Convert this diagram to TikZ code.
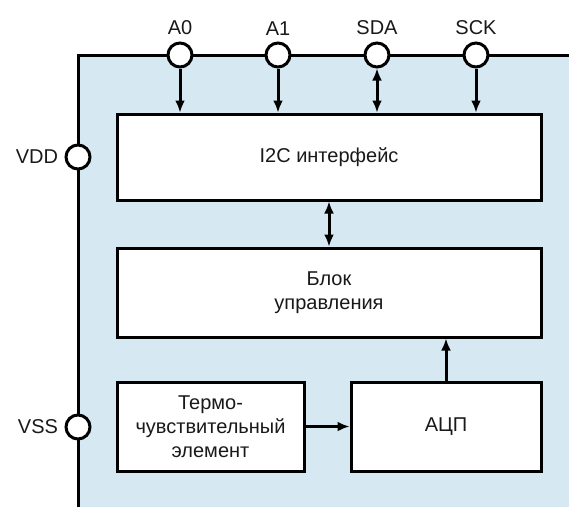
\documentclass[tikz,border=0pt]{standalone}
\usepackage{fontspec}
\setmainfont{Liberation Sans}
\usetikzlibrary{arrows.meta}
\definecolor{chipblue}{RGB}{214,233,243}
\definecolor{txt}{RGB}{25,25,25}
\begin{document}
\begin{tikzpicture}
  [x=1pt,y=-1pt,line width=3pt,font=\fontsize{20}{24}\selectfont,text=txt,
   blk/.style={draw,fill=white,inner sep=0pt,align=center},
   pin/.style={circle,draw,fill=white,minimum size=24pt,inner sep=0pt},
   sig/.style={-{Latex[length=12pt,width=10pt]}},
   bisig/.style={{Latex[length=12pt,width=10pt]}-{Latex[length=12pt,width=10pt]}}]
  \useasboundingbox (0,0) rectangle (569,507);
  % chip body
  \fill[chipblue] (78,55) rectangle (569,507);
  \draw (569,55) -- (78,55) -- (78,507);
  % blocks
  \node[blk,minimum width=424pt,minimum height=86pt] (i2c) at (329,157) {I2C интерфейс};
  \node[blk,minimum width=424pt,minimum height=89pt] (ctrl) at (329,292.5) {Блок\\управления};
  \node[blk,minimum width=187pt,minimum height=89pt] (sens) at (210.5,426.5) {Термо-\\чувствительный\\элемент};
  \node[blk,minimum width=190pt,minimum height=89pt] (adc) at (446,426.5) {АЦП};
  % pins
  \node[pin,label={[inner sep=5pt]above:A0}] (a0) at (180,55) {};
  \node[pin,label={[inner sep=5pt]above:A1}] (a1) at (278,55) {};
  \node[pin,label={[inner sep=5pt]above:SDA}] (sda) at (377,55) {};
  \node[pin,label={[inner sep=5pt]above:SCK}] (sck) at (476,55) {};
  \node[pin,label={[inner sep=5pt]left:VDD}] (vdd) at (78,157) {};
  \node[pin,label={[inner sep=5pt]left:VSS}] (vss) at (78,427) {};
  % signals
  \foreach \p in {a0,a1,sck}
    \draw[sig] (\p) -- (\p |- i2c.north);
  \draw[bisig] (sda) -- (sda |- i2c.north);
  \draw[bisig] (i2c) -- (ctrl);
  \draw[sig] (adc.north) -- (adc.north |- ctrl.south);
  \draw[sig] (sens) -- (adc);
\end{tikzpicture}
\end{document}
